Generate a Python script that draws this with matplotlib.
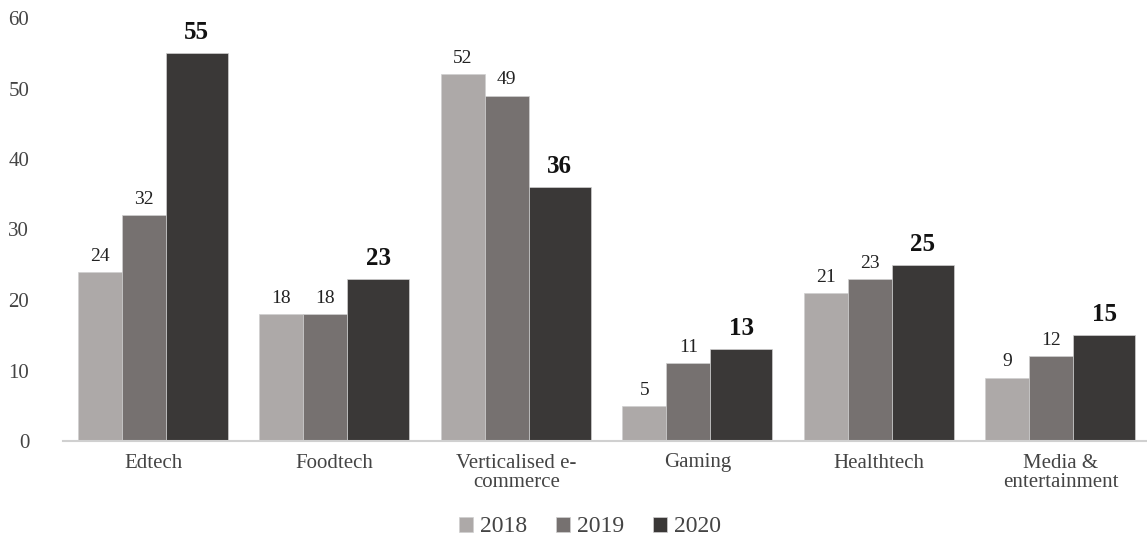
import matplotlib
matplotlib.use("Agg")
import matplotlib.pyplot as plt
import numpy as np

categories = ["Edtech", "Foodtech", "Verticalised e-\ncommerce", "Gaming", "Healthtech", "Media &\nentertainment"]
years = ["2018", "2019", "2020"]
v2018 = [24, 18, 52, 5, 21, 9]
v2019 = [32, 18, 49, 11, 23, 12]
v2020 = [55, 23, 36, 13, 25, 15]

colors = ["#ADA9A8", "#767170", "#3A3837"]
widths = [0.242, 0.242, 0.342]

plt.rcParams['font.family'] = ['Liberation Serif', 'DejaVu Serif']

W, H = 1147, 543
fig = plt.figure(figsize=(W / 100, H / 100), dpi=100)
left_px, slot_px = 62.5, 181.5
ax = fig.add_axes([left_px / W, (543 - 441) / H, 6 * slot_px / W, (441 - 18) / H])

x = np.arange(len(categories))
start = x - 0.5 + 0.085
series = [v2018, v2019, v2020]
offset = np.zeros(len(categories))
for k, (vals, col, w) in enumerate(zip(series, colors, widths)):
    pos = start + offset + w / 2
    bars = ax.bar(pos, vals, width=w, color=col, edgecolor="#d0d0d0", linewidth=0.5, label=years[k])
    offset += w
    for b, v in zip(bars, vals):
        if k == 2:
            ax.text(b.get_x() + b.get_width() / 2, v + 1.3, str(v), ha="center", va="bottom",
                    fontsize=18, fontweight="bold", color="#111111")
        else:
            ax.text(b.get_x() + b.get_width() / 2, v + 1.0, str(v), ha="center", va="bottom",
                    fontsize=14, color="#222222")

ax.set_xlim(-0.5, 5.5)
ax.set_ylim(0, 60)
ax.set_yticks(range(0, 61, 10))
ax.set_xticks(x)
ax.set_xticklabels(categories, fontsize=15, color="#444444", linespacing=1.05)
ax.tick_params(axis="y", labelsize=15, labelcolor="#444444", length=0, pad=24)
ax.tick_params(axis="x", length=0, pad=9)
for s in ["top", "right", "left"]:
    ax.spines[s].set_visible(False)
ax.spines["bottom"].set_color("#d0d0d0")
ax.spines["bottom"].set_linewidth(1.5)

leg = fig.legend(loc="center", bbox_to_anchor=(590 / W, (543 - 527) / H), ncol=3, frameon=False,
                 fontsize=17, handlelength=0.6, handleheight=0.6, handletextpad=0.3, columnspacing=1.2)
for t in leg.get_texts():
    t.set_color("#444444")

fig.savefig("out.png", dpi=100)
